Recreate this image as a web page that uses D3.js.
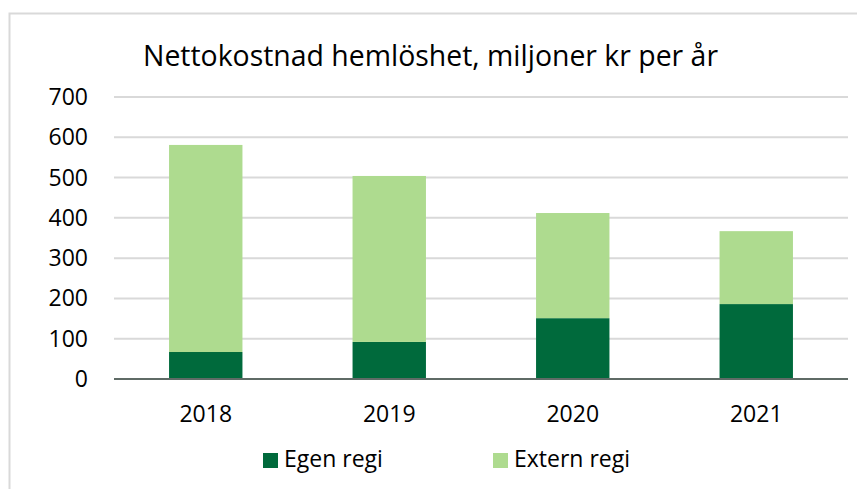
<!DOCTYPE html>
<html><head><meta charset="utf-8">
<script src="https://cdn.jsdelivr.net/npm/d3@7"></script>
<style>body{margin:0;background:#fff}svg{display:block}text{font-family:"Open Sans",sans-serif;fill:#000}</style>
</head><body>
<script>
const years = ["2018","2019","2020","2021"];
const egenRegi = [67, 92, 151, 186];
const externRegi = [514, 412, 261, 181];
const yTicks = [0,100,200,300,400,500,600,700];
const seriesNames = ["Egen regi","Extern regi"];
const colors = ["#006a3c","#aedb8f"];
const title = "Nettokostnad hemlöshet, miljoner kr per år";

const W=857,H=489;
const svg=d3.select("body").append("svg").attr("width",W).attr("height",H);
svg.append("path").attr("d",`M9.5,${H} V13.5 H${W}`).attr("fill","none").attr("stroke","#d9d9d9").attr("stroke-width",2);

const x=d3.scaleBand().domain(years).range([114,848]).paddingInner(0.6).paddingOuter(0.3);
const y=d3.scaleLinear().domain([0,700]).range([379,97]);

const t=svg.append("text").attr("x",143).attr("y",66).attr("font-size",29).text(title);
const tw=t.node().getComputedTextLength();
t.attr("textLength",575).attr("lengthAdjust","spacingAndGlyphs");

svg.append("g").selectAll("line").data(yTicks.filter(d=>d>0)).join("line")
 .attr("x1",114).attr("x2",848).attr("y1",d=>y(d)).attr("y2",d=>y(d))
 .attr("stroke","#d9d9d9").attr("stroke-width",2);

const data=years.map((yr,i)=>({year:yr,egen:egenRegi[i],extern:externRegi[i]}));
const stack=d3.stack().keys(["egen","extern"])(data);
svg.append("g").selectAll("g").data(stack).join("g").attr("fill",(d,i)=>colors[i])
 .selectAll("rect").data(d=>d).join("rect")
 .attr("x",d=>x(d.data.year)).attr("width",x.bandwidth())
 .attr("y",d=>y(d[1])).attr("height",d=>y(d[0])-y(d[1]));

svg.append("line").attr("x1",114).attr("x2",848).attr("y1",y(0)).attr("y2",y(0)).attr("stroke","#5f6b66").attr("stroke-width",2);

svg.append("g").selectAll("text").data(yTicks).join("text")
 .attr("x",88).attr("y",d=>y(d)+8).attr("text-anchor","end").attr("font-size",23).text(d=>d);

svg.append("g").selectAll("text").data(years).join("text")
 .attr("x",d=>x(d)+x.bandwidth()/2).attr("y",422).attr("text-anchor","middle").attr("font-size",23).text(d=>d);

const lx=[263,493];
const lg=svg.append("g").selectAll("g").data(seriesNames).join("g");
lg.append("rect").attr("x",(d,i)=>lx[i]).attr("y",453).attr("width",15).attr("height",15).attr("fill",(d,i)=>colors[i]);
lg.append("text").attr("x",(d,i)=>lx[i]+21).attr("y",467).attr("font-size",23).text(d=>d);
</script>
</body></html>
